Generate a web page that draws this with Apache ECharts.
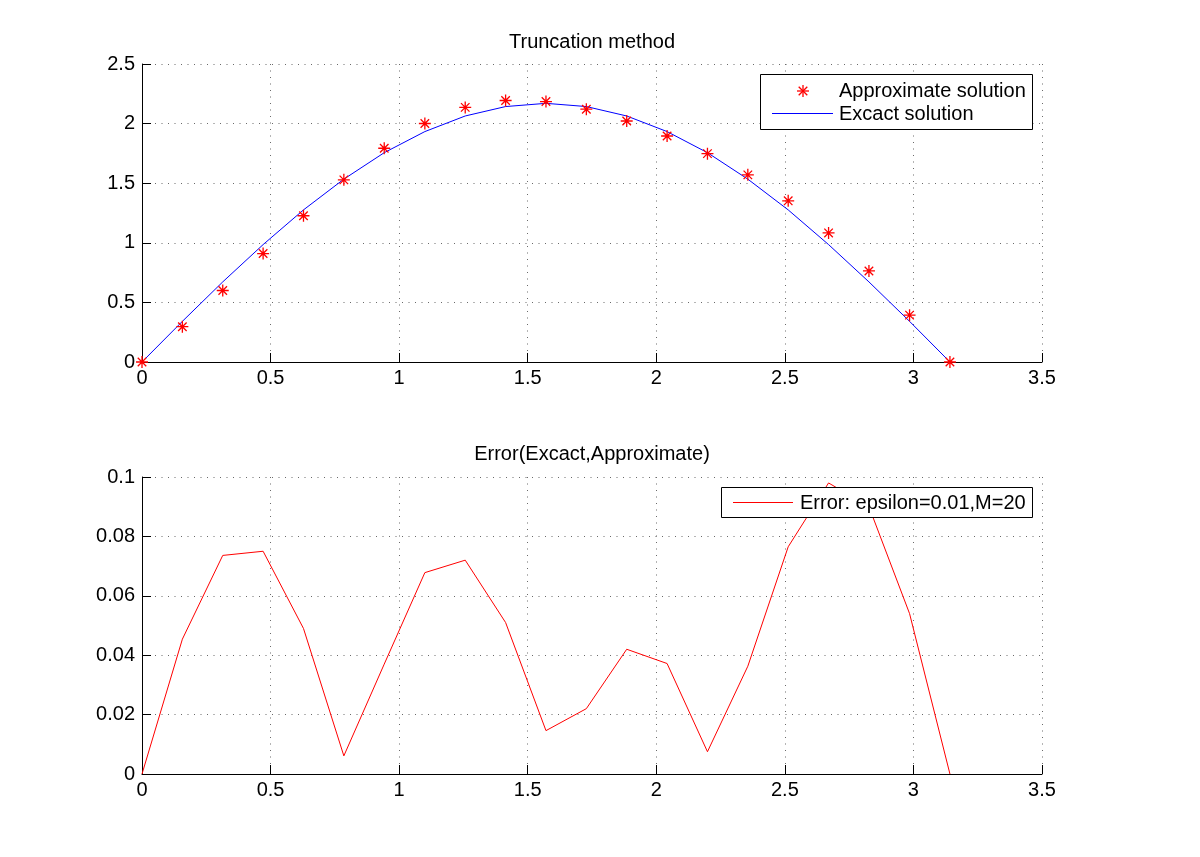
<!DOCTYPE html>
<html>
<head>
<meta charset="utf-8">
<script src="https://cdn.jsdelivr.net/npm/echarts@6/dist/echarts.min.js"></script>
<style>
html,body{margin:0;padding:0;background:#fff;}
#chart{width:1200px;height:857px;}
</style>
</head>
<body>
<div id="chart"></div>
<script>
// ---- data ----
var xValues = [0, 0.157, 0.314, 0.471, 0.628, 0.785, 0.942, 1.100, 1.257, 1.414, 1.571,
               1.728, 1.885, 2.042, 2.199, 2.356, 2.513, 2.670, 2.827, 2.985, 3.142];
var approxValues = [0, 0.296, 0.600, 0.910, 1.227, 1.528, 1.793, 2.001, 2.136, 2.194, 2.185,
                    2.121, 2.022, 1.896, 1.748, 1.570, 1.352, 1.083, 0.764, 0.393, 0];
var exactValues = [0, 0.341, 0.672, 0.985, 1.276, 1.534, 1.756, 1.933, 2.064, 2.143, 2.170,
                   2.143, 2.064, 1.933, 1.756, 1.534, 1.276, 0.985, 0.672, 0.341, 0];
var errorValues = [0, 0.0454, 0.0736, 0.0750, 0.0490, 0.0061, 0.0370, 0.0678, 0.0720, 0.0510, 0.0146,
                   0.0220, 0.0420, 0.0372, 0.0075, 0.0363, 0.0765, 0.0980, 0.0900, 0.0540, 0];
var xTicks = [0, 0.5, 1, 1.5, 2, 2.5, 3, 3.5];
var yTicksTop = [0, 0.5, 1, 1.5, 2, 2.5];
var yTicksBottom = [0, 0.02, 0.04, 0.06, 0.08, 0.1];
var titles = ['Truncation method', 'Error(Excact,Approximate)'];
var seriesNames = ['Approximate solution', 'Excact solution', 'Error: epsilon=0.01,M=20'];

function pairs(xs, ys) { return xs.map(function (x, i) { return [x, ys[i]]; }); }

var FONT = "'Liberation Sans', Arial, Helvetica, sans-serif";
var starPath = 'path://M0,-1L0,1M-1,0L1,0M-0.71,-0.71L0.71,0.71M-0.71,0.71L0.71,-0.71';

function xAxisCfg(gi) {
  return {
    type: 'value', gridIndex: gi,
    min: xTicks[0], max: xTicks[xTicks.length - 1], interval: xTicks[1] - xTicks[0],
    axisLine: { show: true, onZero: false, lineStyle: { color: '#000', width: 1 } },
    axisTick: { show: true, inside: true, length: 9, lineStyle: { color: '#000' } },
    axisLabel: { color: '#000', fontSize: 20, fontFamily: FONT, margin: 6 },
    splitLine: { show: true, lineStyle: { color: '#6a6a6a', type: [1, 5.5], width: 1 } }
  };
}
function yAxisCfg(gi, ticks) {
  return {
    type: 'value', gridIndex: gi,
    min: ticks[0], max: ticks[ticks.length - 1], interval: ticks[1] - ticks[0],
    axisLine: { show: true, onZero: false, lineStyle: { color: '#000', width: 1 } },
    axisTick: { show: true, inside: true, length: 9, lineStyle: { color: '#000' } },
    axisLabel: { color: '#000', fontSize: 20, fontFamily: FONT, margin: 7,
      formatter: function (v) { return String(+v.toFixed(4)); } },
    splitLine: { show: true, lineStyle: { color: '#6a6a6a', type: [1, 5.5], width: 1 } }
  };
}

var chart = echarts.init(document.getElementById('chart'), null, { renderer: 'canvas' });
var option = {
  backgroundColor: '#fff',
  animation: false,
  title: [
    { text: titles[0], left: 592, top: 32, textAlign: 'center', padding: 0,
      textStyle: { fontSize: 20, fontWeight: 'normal', color: '#000', fontFamily: FONT } },
    { text: titles[1], left: 592, top: 444, textAlign: 'center', padding: 0,
      textStyle: { fontSize: 20, fontWeight: 'normal', color: '#000', fontFamily: FONT } }
  ],
  grid: [
    { left: 142, top: 64, width: 900, height: 298 },
    { left: 142, top: 477, width: 900, height: 297 }
  ],
  xAxis: [xAxisCfg(0), xAxisCfg(1)],
  yAxis: [yAxisCfg(0, yTicksTop), yAxisCfg(1, yTicksBottom)],
  series: [
    { name: seriesNames[1], type: 'line', xAxisIndex: 0, yAxisIndex: 0,
      data: pairs(xValues, exactValues), symbol: 'none', clip: false, z: 2,
      lineStyle: { color: '#0000ff', width: 1 } },
    { name: seriesNames[0], type: 'scatter', xAxisIndex: 0, yAxisIndex: 0,
      data: pairs(xValues, approxValues), symbol: starPath, symbolSize: 12, clip: false, z: 3,
      itemStyle: { color: '#ff0000', borderColor: '#ff0000', borderWidth: 1.3, opacity: 1 } },
    { name: seriesNames[2], type: 'line', xAxisIndex: 1, yAxisIndex: 1,
      data: pairs(xValues, errorValues), symbol: 'none', clip: false, z: 2,
      lineStyle: { color: '#ff0000', width: 1 } }
  ],
  graphic: [
    // top legend
    { type: 'rect', z: 100, shape: { x: 760.5, y: 74.5, width: 272, height: 55 },
      style: { fill: '#fff', stroke: '#000', lineWidth: 1 } },
    { type: 'line', z: 101, shape: { x1: 803, y1: 85, x2: 803, y2: 97 }, style: { stroke: '#ff0000', lineWidth: 1.3 } },
    { type: 'line', z: 101, shape: { x1: 797, y1: 91, x2: 809, y2: 91 }, style: { stroke: '#ff0000', lineWidth: 1.3 } },
    { type: 'line', z: 101, shape: { x1: 798.7, y1: 86.7, x2: 807.3, y2: 95.3 }, style: { stroke: '#ff0000', lineWidth: 1.3 } },
    { type: 'line', z: 101, shape: { x1: 798.7, y1: 95.3, x2: 807.3, y2: 86.7 }, style: { stroke: '#ff0000', lineWidth: 1.3 } },
    { type: 'text', z: 101, x: 839, y: 91,
      style: { text: seriesNames[0], fontSize: 20, fontFamily: FONT, fill: '#000', align: 'left', verticalAlign: 'middle' } },
    { type: 'line', z: 101, shape: { x1: 772, y1: 113.5, x2: 833, y2: 113.5 }, style: { stroke: '#0000ff', lineWidth: 1 } },
    { type: 'text', z: 101, x: 839, y: 114,
      style: { text: seriesNames[1], fontSize: 20, fontFamily: FONT, fill: '#000', align: 'left', verticalAlign: 'middle' } },
    // bottom legend
    { type: 'rect', z: 100, shape: { x: 721.5, y: 487.5, width: 311, height: 30 },
      style: { fill: '#fff', stroke: '#000', lineWidth: 1 } },
    { type: 'line', z: 101, shape: { x1: 733, y1: 502.5, x2: 793, y2: 502.5 }, style: { stroke: '#ff0000', lineWidth: 1 } },
    { type: 'text', z: 101, x: 800, y: 503,
      style: { text: seriesNames[2], fontSize: 20, fontFamily: FONT, fill: '#000', align: 'left', verticalAlign: 'middle' } }
  ]
};
chart.setOption(option);
</script>
</body>
</html>
